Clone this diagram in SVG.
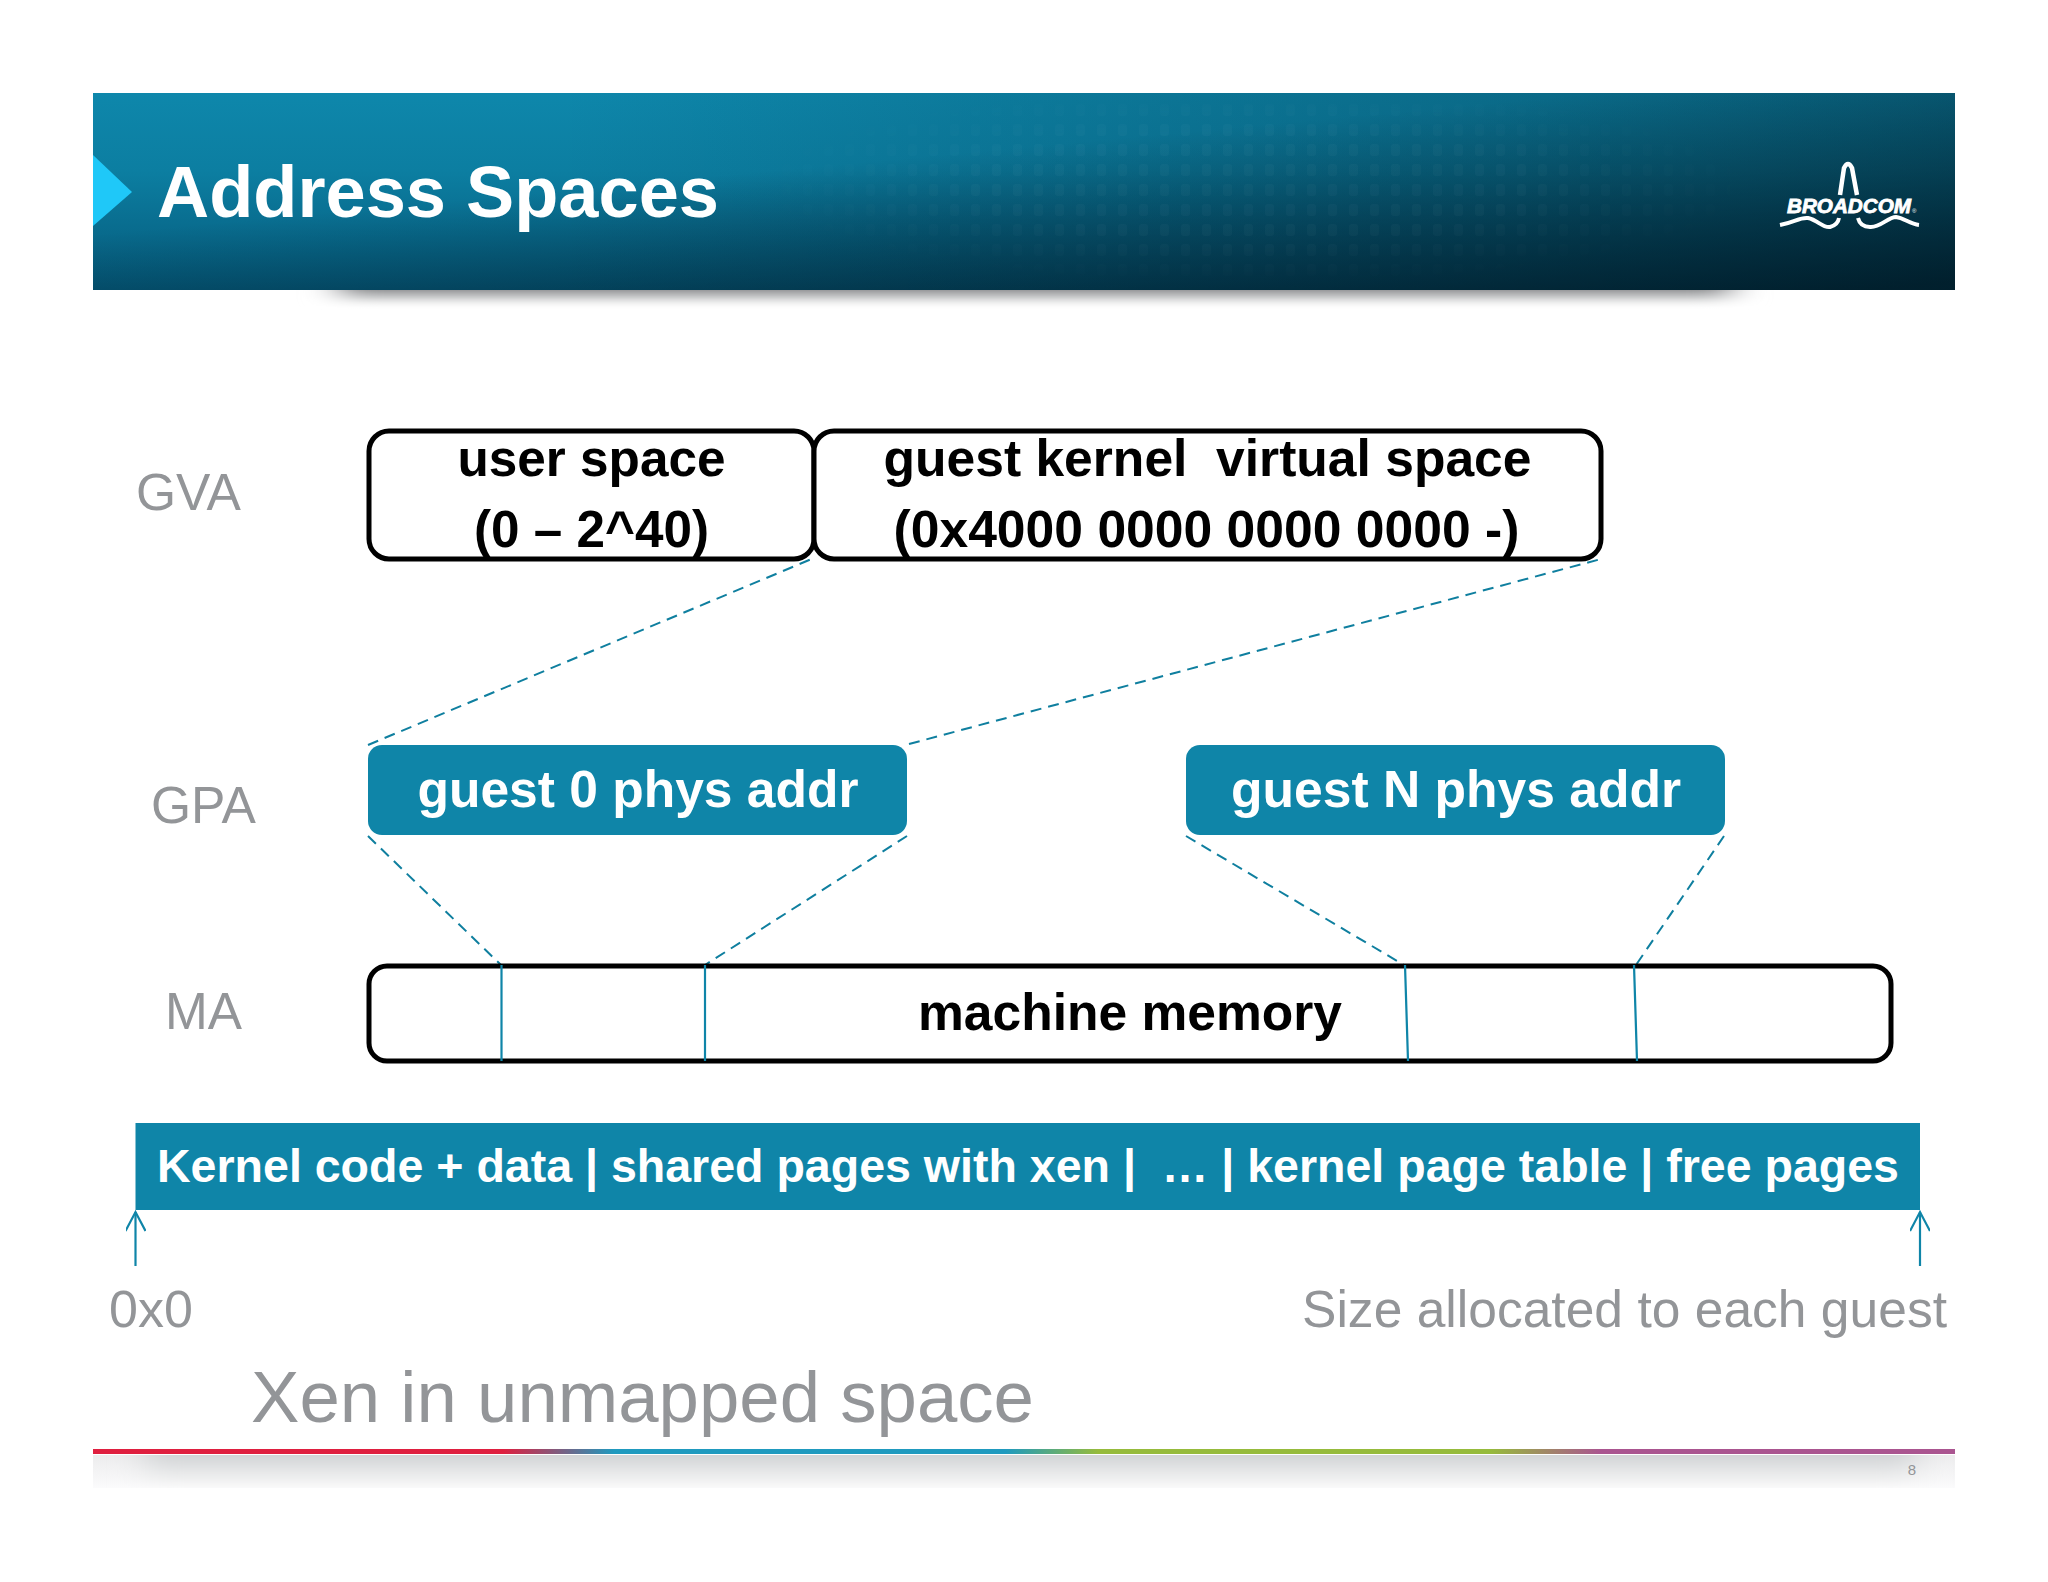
<svg xmlns="http://www.w3.org/2000/svg" width="2048" height="1582" viewBox="0 0 2048 1582">
<style>
text{font-family:"Liberation Sans",Arial,sans-serif}
.w{fill:#fff;font-weight:700}
.k{fill:#000;font-weight:700;font-size:52px;text-anchor:middle}
.g{fill:#939598}
.box{fill:#fff;stroke:#000;stroke-width:5}
.tb{fill:#0f85a8}
.d{fill:none;stroke:#0f7f9f;stroke-width:2;stroke-dasharray:11 7}
.s{fill:none;stroke:#0f85a8;stroke-width:2.2}
</style>
<defs>
<linearGradient id="h1" x1="0" y1="0" x2="0" y2="1"><stop offset="0" stop-color="#0e87ab"/><stop offset=".4" stop-color="#0c7ea1"/><stop offset="1" stop-color="#05597a"/></linearGradient>
<linearGradient id="h2" x1="0" y1="0" x2="1" y2="0"><stop offset=".25" stop-color="#00202e" stop-opacity="0"/><stop offset="1" stop-color="#00202e" stop-opacity=".4"/></linearGradient>
<linearGradient id="h3" x1=".15" y1=".1" x2=".95" y2="1"><stop offset=".3" stop-color="#00121b" stop-opacity="0"/><stop offset="1" stop-color="#00121b" stop-opacity=".72"/></linearGradient>
<linearGradient id="rb" x1="0" y1="0" x2="1" y2="0"><stop offset="0" stop-color="#df1f3f"/><stop offset=".22" stop-color="#df1f3f"/><stop offset=".28" stop-color="#1f9abf"/><stop offset=".49" stop-color="#1f9abf"/><stop offset=".54" stop-color="#96bb3c"/><stop offset=".75" stop-color="#96bb3c"/><stop offset=".81" stop-color="#aa5590"/><stop offset="1" stop-color="#aa5590"/></linearGradient>
<linearGradient id="sh" x1="0" y1="0" x2="0" y2="1"><stop offset="0" stop-color="#98999b"/><stop offset=".4" stop-color="#cfd0d1"/><stop offset="1" stop-color="#fff" stop-opacity="0"/></linearGradient>
<linearGradient id="fs" x1="0" y1="0" x2="0" y2="1"><stop offset="0" stop-color="#d2d4d6"/><stop offset="1" stop-color="#fafafa"/></linearGradient>
<linearGradient id="fs0" x1="0" y1="0" x2="0" y2="1"><stop offset="0" stop-color="#ececed"/><stop offset="1" stop-color="#fbfbfc"/></linearGradient>
<filter id="bl" x="-5%" y="-20%" width="110%" height="140%"><feGaussianBlur stdDeviation="18 0"/></filter>
<filter id="bl2" x="-5%" y="-20%" width="110%" height="140%"><feGaussianBlur stdDeviation="16 0"/></filter>
<pattern id="dots" width="21" height="20" patternUnits="userSpaceOnUse"><rect x="5" y="4" width="9" height="12" rx="3" fill="#fff"/></pattern>
<radialGradient id="dm" cx=".5" cy=".45" r=".55"><stop offset=".5" stop-color="#fff"/><stop offset="1" stop-color="#000"/></radialGradient>
<mask id="dmask" maskContentUnits="objectBoundingBox"><rect width="1" height="1" fill="url(#dm)"/></mask>
<marker id="ah" markerWidth="24" markerHeight="20" refX="21" refY="10" orient="auto" markerUnits="userSpaceOnUse"><path d="M2 0L21 10L2 20" fill="none" stroke="#0f85a8" stroke-width="2.2"/></marker>
</defs>
<rect width="2048" height="1582" fill="#fff"/>
<g id="header">
<rect x="340" y="290" width="1390" height="20" fill="url(#sh)" filter="url(#bl)"/>
<rect x="93" y="93" width="1862" height="197" fill="url(#h1)"/>
<rect x="93" y="93" width="1862" height="197" fill="url(#h2)"/>
<rect x="93" y="93" width="1862" height="197" fill="url(#h3)"/>
<rect x="780" y="100" width="950" height="190" fill="url(#dots)" opacity=".025" mask="url(#dmask)"/>
<polygon points="93,155 132,192 93,226" fill="#1fc8f8"/>
<text class="w" x="157" y="217" font-size="73" textLength="562" lengthAdjust="spacingAndGlyphs">Address Spaces</text>
</g>
<g id="logo">
<path d="M1840 195L1844 168Q1848 160 1852 168L1857 195" fill="none" stroke="#fff" stroke-width="4.5"/>
<path d="M1780 225C1795 222 1800 217 1808 218C1818 220 1822 228 1830 227C1834 226 1838 224 1839 218M1858 218C1860 226 1866 227 1870 227C1880 228 1888 217 1896 217C1904 218 1910 224 1919 225" fill="none" stroke="#fff" stroke-width="4"/>
<text x="1787" y="213" font-size="20" font-weight="700" font-style="italic" fill="#fff" stroke="#fff" stroke-width=".8" textLength="124" lengthAdjust="spacingAndGlyphs">BROADCOM</text>
<text x="1912" y="213" font-size="6" fill="#fff">®</text>
</g>
<g id="labels">
<text class="g" x="136" y="510" font-size="52" textLength="105" lengthAdjust="spacingAndGlyphs">GVA</text>
<text class="g" x="151" y="823" font-size="52" textLength="105" lengthAdjust="spacingAndGlyphs">GPA</text>
<text class="g" x="165" y="1029" font-size="52" textLength="77" lengthAdjust="spacingAndGlyphs">MA</text>
</g>
<g id="connectors">
<line class="d" x1="368" y1="745" x2="814" y2="558"/>
<line class="d" x1="909" y1="744" x2="1601" y2="559"/>
<line class="d" x1="368" y1="836" x2="501" y2="965"/>
<line class="d" x1="907" y1="836" x2="705" y2="965"/>
<line class="d" x1="1186" y1="836" x2="1404" y2="965"/>
<line class="d" x1="1724" y1="836" x2="1636" y2="965"/>
</g>
<g id="gva-user"><rect class="box" x="369" y="431" width="445" height="128" rx="20"/>
<text class="k" x="591.5" y="476" textLength="268" lengthAdjust="spacingAndGlyphs">user space</text><text class="k" x="591.5" y="547" textLength="235" lengthAdjust="spacingAndGlyphs">(0 – 2^40)</text></g>
<g id="gva-kernel"><rect class="box" x="814" y="431" width="787" height="128" rx="20"/>
<text class="k" x="1207.5" y="476" xml:space="preserve" textLength="648" lengthAdjust="spacingAndGlyphs">guest kernel  virtual space</text><text class="k" x="1206.5" y="547" textLength="626" lengthAdjust="spacingAndGlyphs">(0x4000 0000 0000 0000 -)</text></g>
<g id="gpa-0"><rect class="tb" x="368" y="745" width="539" height="90" rx="14"/>
<text class="w" x="638" y="807" font-size="52" text-anchor="middle" textLength="441" lengthAdjust="spacingAndGlyphs">guest 0 phys addr</text></g>
<g id="gpa-n"><rect class="tb" x="1186" y="745" width="539" height="90" rx="14"/>
<text class="w" x="1456" y="807" font-size="52" text-anchor="middle" textLength="450" lengthAdjust="spacingAndGlyphs">guest N phys addr</text></g>
<g id="ma"><rect class="box" x="369" y="966" width="1522" height="95" rx="18"/>
<line class="s" x1="501.5" y1="965" x2="501.5" y2="1061"/>
<line class="s" x1="705" y1="965" x2="705" y2="1061"/>
<line class="s" x1="1405" y1="965" x2="1408" y2="1061"/>
<line class="s" x1="1634" y1="965" x2="1637" y2="1061"/>
<text class="k" x="1130" y="1030" textLength="424" lengthAdjust="spacingAndGlyphs">machine memory</text></g>
<g id="layout"><rect class="tb" x="135.5" y="1123" width="1784.5" height="87"/>
<text class="w" x="157" y="1182" font-size="47" xml:space="preserve" textLength="1742" lengthAdjust="spacingAndGlyphs">Kernel code + data | shared pages with xen |  … | kernel page table | free pages</text></g>
<g id="arrows">
<line class="s" x1="135.5" y1="1266" x2="135.5" y2="1212" marker-end="url(#ah)"/>
<line class="s" x1="1920" y1="1266" x2="1920" y2="1212" marker-end="url(#ah)"/>
</g>
<g id="captions">
<text class="g" x="109" y="1327" font-size="52">0x0</text>
<text class="g" x="1302" y="1327" font-size="52" textLength="645" lengthAdjust="spacingAndGlyphs">Size allocated to each guest</text>
<text class="g" x="251" y="1422" font-size="73" textLength="783" lengthAdjust="spacingAndGlyphs">Xen in unmapped space</text>
</g>
<g id="footer">
<rect x="93" y="1455" width="1862" height="33" fill="url(#fs0)"/>
<rect x="145" y="1455" width="1770" height="33" fill="url(#fs)" filter="url(#bl2)"/>
<rect x="93" y="1449" width="1862" height="5" fill="url(#rb)"/>
<text class="g" x="1912" y="1475" font-size="15" text-anchor="middle">8</text>
</g>
</svg>
